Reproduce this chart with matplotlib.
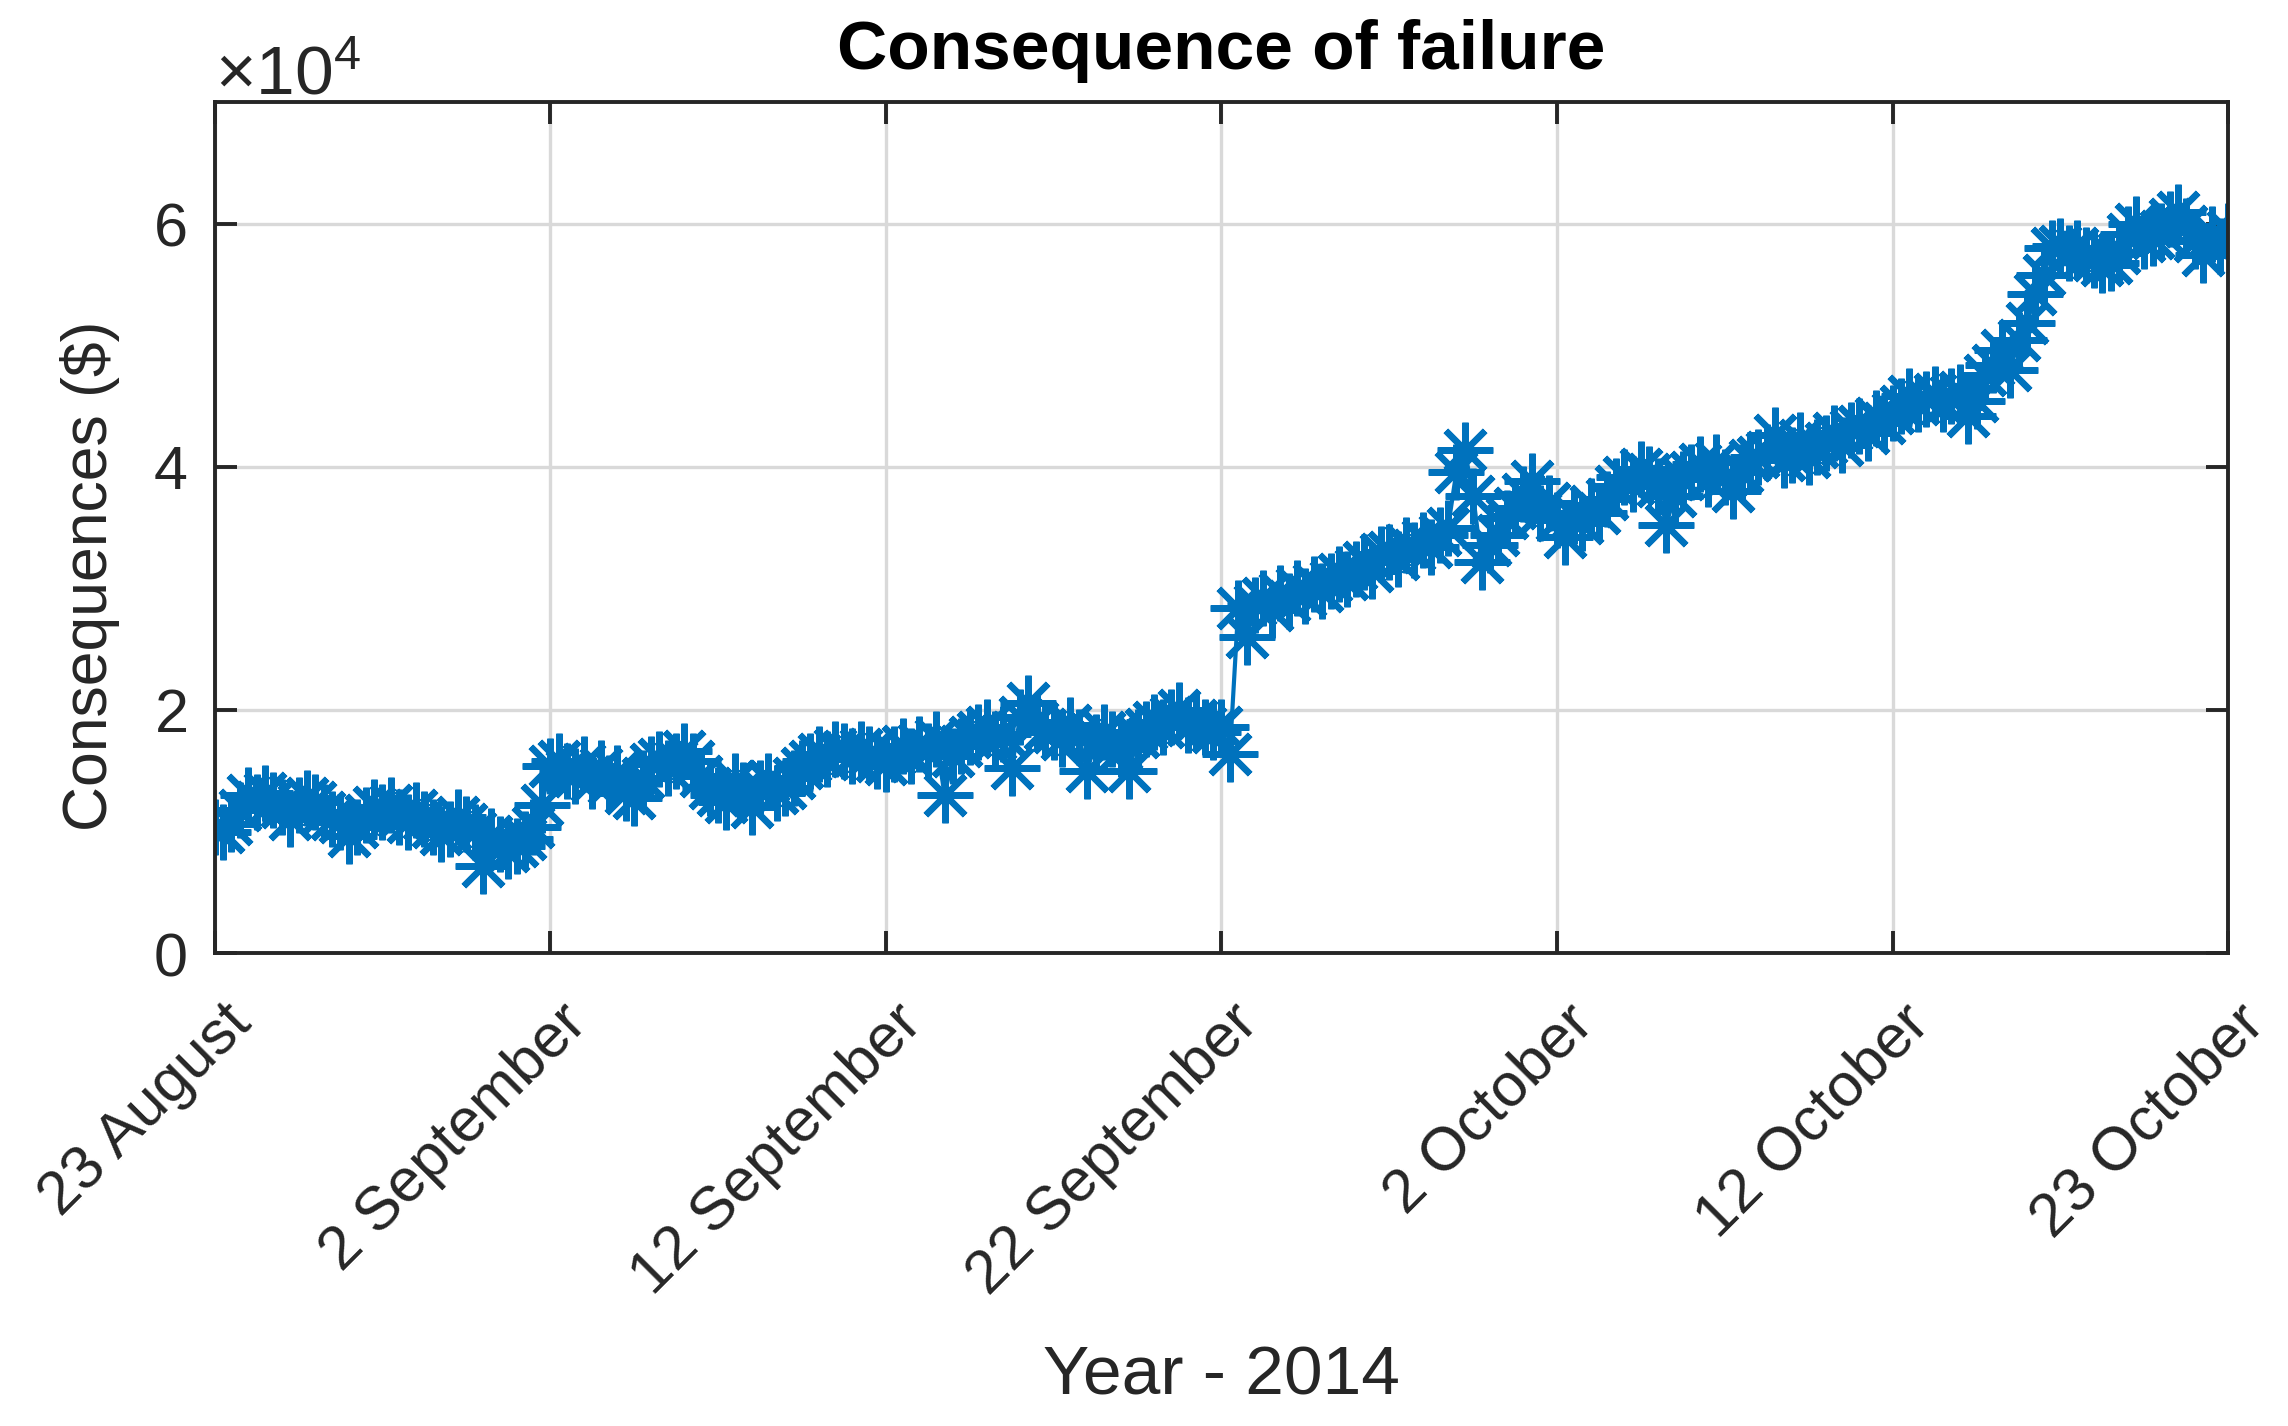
import numpy as np
import matplotlib
matplotlib.use("Agg")
import matplotlib.pyplot as plt
from matplotlib.ticker import ScalarFormatter
from matplotlib.transforms import ScaledTranslation

plt.rcParams['font.family'] = ['Liberation Sans', 'DejaVu Sans']
plt.rcParams['mathtext.fontset'] = 'custom'
plt.rcParams['mathtext.rm'] = 'Liberation Sans'
plt.rcParams['mathtext.it'] = 'Liberation Sans'

# consequence of failure, thousands of $, every 6 h from 23 August
cons_k = [
    10.4, 10.0, 10.6, 11.8,  13.0, 12.4, 13.2, 12.6,  12.0, 11.0, 12.2, 12.8,
    12.4, 11.6, 11.0, 10.8,  9.6, 10.4, 11.4, 12.0,  11.6, 12.2, 11.2, 10.8,
    11.8, 11.0, 10.4, 9.8,  10.2, 11.2, 10.6, 10.0,  7.2, 9.6, 9.0, 8.4,
    8.8, 9.4, 10.4, 12.2,  15.4, 15.8, 15.0, 14.6,  15.6, 14.2, 15.2, 14.0,
    14.8, 13.2, 12.8, 14.4,  15.6, 16.0, 15.2, 15.8,  16.6, 15.8, 14.6, 13.6,
    13.0, 12.4, 14.2, 13.4,  12.0, 13.6, 14.2, 13.2,  13.6, 14.4, 15.2, 15.8,
    16.4, 16.0, 16.8, 16.6,  16.2, 16.8, 16.4, 15.8,  15.6, 16.4, 17.0, 16.2,
    17.2, 16.6, 17.6, 13.0,  16.2, 17.0, 17.8, 18.2,  18.6, 17.6, 18.0, 15.2,
    19.4, 20.6, 19.0, 18.4,  18.2, 17.6, 18.8, 17.8,  15.0, 17.4, 18.2, 17.6,
    16.8, 15.0, 17.8, 18.4,  19.0, 18.6, 19.4, 20.0,  18.8, 19.2, 18.6, 18.2,
    18.6, 16.4, 28.4, 26.0,  28.6, 29.2, 28.2, 29.6,  29.0, 30.0, 29.4, 30.4,
    29.8, 30.6, 31.2, 30.8,  31.6, 32.2, 31.4, 32.8,  33.0, 32.4, 33.6, 33.2,
    34.0, 33.4, 34.4, 35.0,  39.6, 41.4, 37.6, 32.2,  33.6, 34.4, 35.8, 36.6,
    37.8, 38.8, 36.2, 37.0,  35.6, 34.2, 36.0, 35.4,  36.8, 36.2, 37.4, 38.4,
    39.2, 38.6, 39.8, 39.4,  38.4, 35.2, 37.6, 39.0,  39.6, 40.2, 39.0, 40.4,
    39.2, 38.0, 39.6, 40.6,  40.8, 41.2, 42.6, 40.6,  41.0, 42.2, 40.8, 41.6,
    42.0, 42.8, 41.8, 43.0,  43.4, 42.8, 44.0, 43.6,  44.4, 45.0, 45.8, 45.2,
    45.6, 46.0, 45.2, 45.8,  46.2, 44.2, 45.4, 47.6,  48.4, 49.6, 48.0, 50.4,
    51.8, 54.2, 55.8, 58.0,  58.2, 57.6, 58.0, 57.4,  57.0, 56.6, 56.8, 57.6,
    59.2, 60.0, 58.6, 58.8,  59.4, 60.4, 61.0, 59.8,  58.6, 57.4, 59.2, 58.2,
    59.4,
]
date_labels = ['23 August', '2 September', '12 September', '22 September',
               '2 October', '12 October', '23 October']
span_days = 61

cons = np.array(cons_k) * 1000
t = np.linspace(0, span_days, len(cons))

fig = plt.figure(figsize=(11.44, 7.13), dpi=200)
ax = fig.add_axes([0.0938, 0.3316, 0.8801, 0.5967])

blue = '#0072BD'
txt = '#262626'
ax.plot(t, cons, color=blue, lw=1.5, marker=(8, 2, 0), ms=20, mew=2.3)

ax.set_xlim(0, span_days)
ax.set_ylim(0, 70000)
ax.set_yticks([0, 20000, 40000, 60000])
ax.set_xticks(np.linspace(0, span_days, len(date_labels)))

fmt = ScalarFormatter(useMathText=True)
fmt.set_powerlimits((0, 0))
ax.yaxis.set_major_formatter(fmt)
ax.yaxis.get_offset_text().set_fontsize(25)
ax.yaxis.get_offset_text().set_color(txt)

ax.grid(True, color='#d9d9d9', lw=1.2)
ax.set_axisbelow(True)
ax.tick_params(direction='in', length=8, width=1.4, top=True, right=True,
               labelsize=22, colors=txt, pad=10)
ax.tick_params(axis='x', pad=22)
for s in ax.spines.values():
    s.set_linewidth(1.4)
    s.set_color(txt)

# rotated date labels, nudged right like the original
ax.set_xticklabels(date_labels, rotation=45, ha='right', va='center',
                   rotation_mode='anchor')
shift = ScaledTranslation(10 / 72, 0, fig.dpi_scale_trans)
for lab in ax.get_xticklabels():
    lab.set_transform(lab.get_transform() + shift)

ax.set_title('Consequence of failure', fontsize=25, fontweight='bold', color='black', pad=12)
ax.set_xlabel('Year - 2014', fontsize=25, color=txt)
ax.set_ylabel('Consequences ($)', fontsize=22.5, color=txt)
ax.xaxis.set_label_coords(0.5, -0.46)
ax.yaxis.set_label_coords(-0.047, 0.443)

fig.savefig('out.png', dpi=200)
